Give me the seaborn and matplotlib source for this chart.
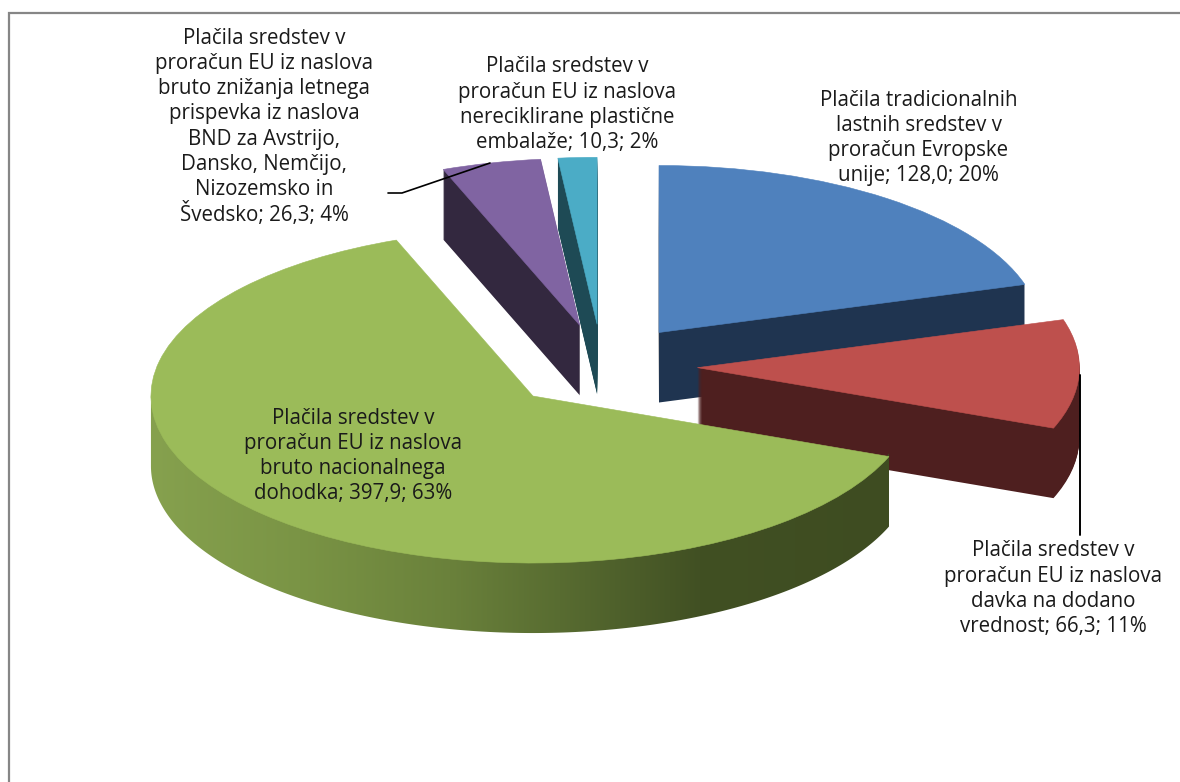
import numpy as np
import matplotlib
matplotlib.use("Agg")
import matplotlib.pyplot as plt
from matplotlib.patches import Wedge, Polygon
import seaborn as sns

# ---- data ----
label_heads = [
    "Plačila tradicionalnih\nlastnih sredstev v\nproračun Evropske\nunije",
    "Plačila sredstev v\nproračun EU iz naslova\ndavka na dodano\nvrednost",
    "Plačila sredstev v\nproračun EU iz naslova\nbruto nacionalnega\ndohodka",
    "Plačila sredstev v\nproračun EU iz naslova\nbruto znižanja letnega\nprispevka iz naslova\nBND za Avstrijo,\nDansko, Nemčijo,\nNizozemsko in\nŠvedsko",
    "Plačila sredstev v\nproračun EU iz naslova\nnereciklirane plastične\nembalaže",
]
values = [128.0, 66.3, 397.9, 26.3, 10.3]
top_colors = ["#4F81BD", "#BE504D", "#9BBB59", "#8064A2", "#4BACC6"]
side_colors = ["#1F3450", "#4E1F1F", "#3F4D22", "#33283F", "#1E4A55"]

# ---- layout (pixels of the 1180x782 picture) ----
W, H = 1180, 782
CX, CY, RX, RY = 602, 366, 382, 167
DEPTH = 70
EXPLODES = [0.25, 0.25, 0.255, 0.25, 0.25]
# centre x and first baseline y of each label
label_anchor = [(918.5, 105.5), (1053, 556.5), (353, 423.5), (264, 43.5), (567, 72.5)]
LINE_STEP = 25.3
FONT = "Open Sans"
FS = 14.8
grad_x = [150, 300, 450, 560, 700, 890]
grad_rgb = [(134, 161, 78), (122, 148, 69), (106, 129, 59), (88, 108, 49), (65, 80, 35), (62, 76, 33)]

sns.set_theme(style="white")
plt.rcParams["font.family"] = [FONT, "DejaVu Sans"]
palette = sns.color_palette(top_colors)

fig = plt.figure(figsize=(W / 100, H / 100), dpi=100, facecolor="white")
ax = fig.add_axes([0, 0, 1, 1])

wedges, _ = ax.pie(values, explode=EXPLODES, colors=palette,
                   startangle=90, counterclock=False, radius=1.0,
                   wedgeprops=dict(linewidth=0.4, zorder=6))
for w in wedges:
    w.set_edgecolor(w.get_facecolor())

dz = 1.0 / RY
total = sum(values)


def side_layers(w, colour, zorder):
    cx, cy = w.center
    for k in range(DEPTH, 0, -1):
        ax.add_patch(Wedge((cx, cy - k * dz), w.r, w.theta1, w.theta2,
                           facecolor=colour, edgecolor="none", linewidth=0, zorder=zorder))


# back-to-front sides, green last with its gradient
for idx, z in [(0, 2), (1, 3), (3, 2), (4, 2)]:
    side_layers(wedges[idx], side_colors[idx], z)

g = wedges[2]
th = np.radians(np.linspace(180, g.theta2 % 360, 300))
gx = g.center[0] + g.r * np.cos(th)
gy = g.center[1] + g.r * np.sin(th)
poly = np.vstack([np.column_stack([gx, gy + 3 * dz]),
                  np.column_stack([gx[::-1], gy[::-1] - DEPTH * dz])])
clip = Polygon(poly, closed=True, transform=ax.transData, facecolor="none", edgecolor="none")
ax.add_patch(clip)
xs_px = np.arange(W)
rgb = np.stack([np.interp(xs_px, grad_x, [c[i] for c in grad_rgb]) for i in range(3)], axis=-1) / 255
im = ax.imshow(rgb[np.newaxis, :, :], extent=[-CX / RX, (W - CX) / RX, (CY - H) / RY, CY / RY],
               aspect="auto", zorder=4, interpolation="bilinear")
im.set_clip_path(clip)

ax.set_aspect("auto")
ax.set_xlim(-CX / RX, (W - CX) / RX)
ax.set_ylim((CY - H) / RY, CY / RY)
ax.axis("off")


def fx(x):
    return x / W


def fy(y):
    return 1 - y / H


# labels, one text per line so the caron on Š cannot disturb the line pitch
for head, v, (lx, ly) in zip(label_heads, values, label_anchor):
    txt = f"{head}; {v:.1f}; {v / total * 100:.0f}%".replace(".", ",")
    for i, line in enumerate(txt.split("\n")):
        ax.text(fx(lx), fy(ly + i * LINE_STEP), line, transform=ax.transAxes, ha="center",
                va="baseline", fontsize=FS, color="#1a1a1a", zorder=10)

# leader lines
ax.plot([fx(388), fx(402), fx(490)], [fy(193), fy(193), fy(163)], transform=ax.transAxes,
        color="black", lw=1.2, zorder=9, solid_joinstyle="round")
ax.plot([fx(1079.5), fx(1079.5)], [fy(375), fy(535)], transform=ax.transAxes,
        color="black", lw=1.4, zorder=9)

# chart-area frame
ax.plot([fx(9), fx(9), fx(W)], [fy(H), fy(13), fy(13)], transform=ax.transAxes,
        color="#868686", lw=1.6, zorder=11, clip_on=False, solid_joinstyle="miter")

fig.savefig("out.png", dpi=100, facecolor="white")
